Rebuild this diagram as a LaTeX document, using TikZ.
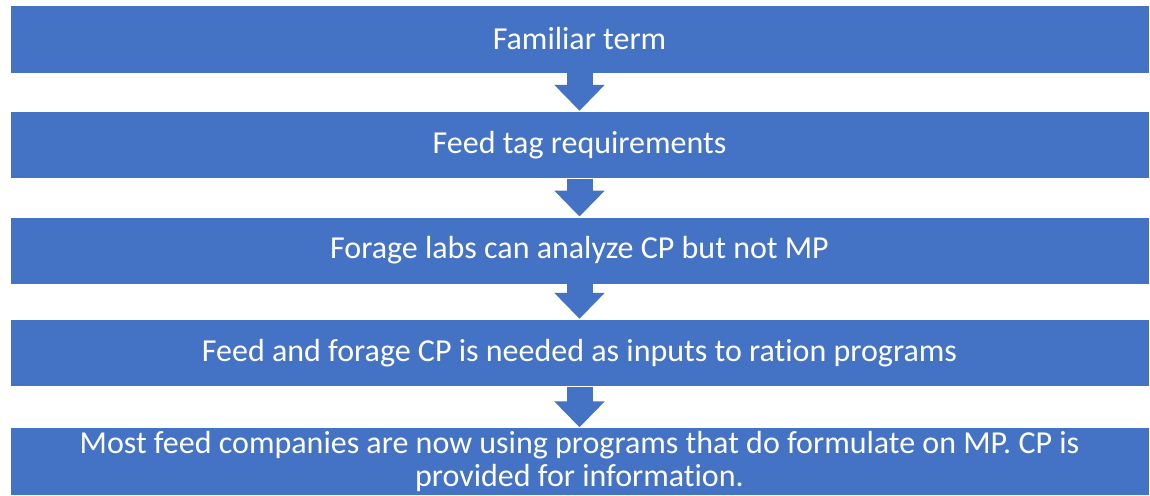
\documentclass[tikz,border=0pt]{standalone}
\usepackage{fontspec}
\setmainfont{Carlito}[Ligatures=NoCommon]
\usetikzlibrary{arrows.meta}
\definecolor{boxblue}{HTML}{4472C4}
\begin{document}
\begin{tikzpicture}[x=1pt,y=-1pt,
  stepbox/.style={fill=boxblue, draw=white, line width=0.4pt, minimum width=1139pt, minimum height=67.5pt,
    inner sep=0pt, text=white, align=center, font=\fontsize{32}{33}\selectfont},
  flowarrow/.style={draw=boxblue, line width=26pt, -{Triangle[width=49pt,length=26pt]}}]
\useasboundingbox (0,0) rectangle (1150,495);
\node[stepbox] (b1) at (579.5,39) {Familiar term};
\node[stepbox] (b2) at (579.5,144.75) {Feed tag requirements};
\node[stepbox] (b3) at (579.5,250.5) {Forage labs can analyze CP but not MP};
\node[stepbox] (b4) at (579.5,352.75) {Feed and forage CP is needed as inputs to ration programs};
\node[stepbox] (b5) at (579.5,461.25) {Most feed companies are now using programs that do formulate on MP. CP is\\provided for information.};
\draw[flowarrow] (b1.south) -- (b2.north);
\draw[flowarrow] (b2.south) -- (b3.north);
\draw[flowarrow] (b3.south) -- (b4.north);
\draw[flowarrow] (b4.south) -- (b5.north);
\end{tikzpicture}
\end{document}
